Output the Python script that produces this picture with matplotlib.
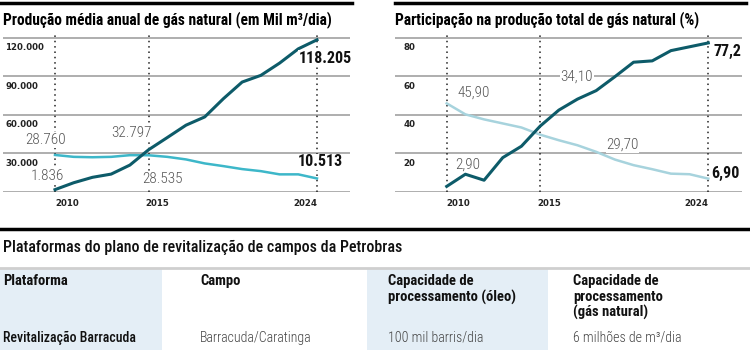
import matplotlib.pyplot as plt
from matplotlib.lines import Line2D
from matplotlib.patches import Rectangle

# dados
anos = list(range(2010, 2025))
prod_petrobras = [1836, 7200, 11400, 13900, 20900, 32797, 42300, 51900, 58300,
                  72500, 85400, 90600, 100100, 111200, 118205]
prod_outros = [28760, 27300, 27000, 27300, 28600, 28535, 27300, 25300, 22200,
               20100, 17800, 16200, 13700, 13700, 10513]
part_petrobras = [2.9, 9.2, 6.1, 17.8, 23.7, 34.1, 42.4, 48.1, 52.5,
                  59.7, 67.2, 67.9, 73.2, 75.2, 77.2]
part_outros = [45.9, 40.2, 37.6, 35.5, 33.4, 29.7, 26.8, 24.2, 20.8,
               16.8, 13.9, 11.8, 9.5, 9.2, 6.9]
anos_marcados = [2010, 2015, 2024]
ticks_prod = [30000, 60000, 90000, 120000]
ticks_part = [20, 40, 60, 80]

cabecalho = ["Plataforma", "Campo", "Capacidade de\nprocessamento (óleo)",
             "Capacidade de\nprocessamento\n(gás natural)"]
linha = ["Revitalização Barracuda", "Barracuda/Caratinga", "100 mil barris/dia",
         "6 milhões de m³/dia"]

W, H = 750, 350
cond = ['Roboto Condensed', 'Barlow Condensed', 'Archivo Narrow', 'DejaVu Sans']
escuro = '#0d5b69'

fig = plt.figure(figsize=(7.5, 3.5), dpi=100)


def fx(x):
    return x / W


def fy(y):
    return 1 - y / H


def painel(x0, x1, x2010, x2024, top_val, ticks, fmt, tick_x):
    # eixo em pixels: base em y=192, topo da grade em y=37.5
    px_ano = (x2024 - x2010) / 14
    ax = fig.add_axes([fx(x0), fy(192), (x1 - x0) / W, (192 - 33) / H])
    ax.set_xlim(2010 - (x2010 - x0) / px_ano, 2024 + (x1 - x2024) / px_ano)
    ax.set_ylim(0, top_val * (192 - 33) / (192 - 37.5))
    ax.axis('off')
    for t in [0] + ticks:
        ax.axhline(t, color='#999999', lw=1.1, zorder=1)
    for a, ha, dx in zip(anos_marcados, ['left', 'left', 'right'], [0, -0.15, 0]):
        ax.axvline(a, color='#222222', ls=(0, (1, 2.5)), lw=1.1, zorder=2)
        ax.text(a + dx, -0.075 * top_val, str(a), ha=ha, va='center',
                fontsize=6.2, fontweight='bold', color='#222222')
    for t in ticks:
        ax.text(tick_x, t - 0.035 * top_val, fmt(t), ha='left', va='top',
                fontsize=6.2, fontweight='bold', color='#222222')
    return ax


fundo = dict(facecolor='white', edgecolor='none', pad=0.5)
kw = dict(family=cond, fontweight='light', fontsize=11, color='#555555',
          ha='center', va='center', zorder=5, bbox=fundo)
kb = dict(family=cond, fontweight='bold', fontsize=11.5, color='#111111',
          ha='center', va='center', zorder=5, bbox=fundo)

# painel esquerdo
ax1 = painel(3, 350, 55, 317, 120000, ticks_prod,
             lambda v: f"{v:,}".replace(',', '.'), 2007.33)
ax1.plot(anos, prod_outros, color='#3db7c9', lw=1.8, zorder=3)
ax1.plot(anos, prod_petrobras, color=escuro, lw=2.2, zorder=4)
ax1.text(2009.47, 40258, "28.760", **kw)
ax1.text(2009.57, 12387, "1.836", **kw)
ax1.text(2014.1, 45500, "32.797", **kw)
ax1.text(2015.72, 9800, "28.535", **kw)
ax1.text(2024.45, 104000, "118.205", **kb)
ax1.text(2024.2, 23400, "10.513", **kb)

# painel direito
ax2 = painel(395, 742, 446.7, 708.3, 80, ticks_part, lambda v: str(v), 2007.7)
ax2.plot(anos, part_outros, color='#a7d3dd', lw=1.8, zorder=3)
ax2.plot(anos, part_petrobras, color=escuro, lw=2.2, zorder=4)
ax2.text(2011.46, 51.3, "45,90", **kw)
ax2.text(2011.11, 14.4, "2,90", **kw)
ax2.text(2016.97, 59.6, "34,10", **kw)
ax2.text(2019.41, 24.3, "29,70", **kw)
ax2.text(2025.0, 72.6, "77,2", **kb)
ax2.text(2024.94, 9.7, "6,90", **kb)

# títulos e linhas grossas
fig.add_artist(Line2D([fx(0), fx(352)], [fy(3), fy(3)], color='black', lw=2.5))
fig.add_artist(Line2D([fx(395), fx(746)], [fy(3), fy(3)], color='black', lw=2.5))
fig.text(fx(3), fy(20), "Produção média anual de gás natural (em Mil m³/dia)",
         family=cond, fontweight='bold', fontsize=11.2, va='center')
fig.text(fx(395), fy(20), "Participação na produção total de gás natural (%)",
         family=cond, fontweight='bold', fontsize=11.2, va='center')

# tabela
fig.add_artist(Line2D([0, 1], [fy(229), fy(229)], color='black', lw=2.5))
fig.text(fx(3), fy(247), "Plataformas do plano de revitalização de campos da Petrobras",
         family=cond, fontweight='medium', fontsize=11.5, va='center', color='#111111')
for a, b in [(0, 162), (367, 548)]:
    fig.add_artist(Rectangle((fx(a), 0), (b - a) / W, fy(269),
                             facecolor='#e4eef6', edgecolor='none', zorder=0))
fig.add_artist(Line2D([0, 1], [fy(268), fy(268)], color='#cfcfcf', lw=2))
col_x = [3, 200, 388, 573]
for x, c in zip(col_x, cabecalho):
    fig.text(fx(x), fy(274), c, family=cond, fontweight='bold', fontsize=10.5,
             va='top', linespacing=1.15, color='#111111')
for i, (x, c) in enumerate(zip(col_x, linha)):
    fig.text(fx(x), fy(338), c, family=cond, fontsize=10, va='center',
             fontweight='medium' if i == 0 else 'light',
             color='#111111' if i == 0 else '#444444')

fig.savefig('out.png', dpi=100)
